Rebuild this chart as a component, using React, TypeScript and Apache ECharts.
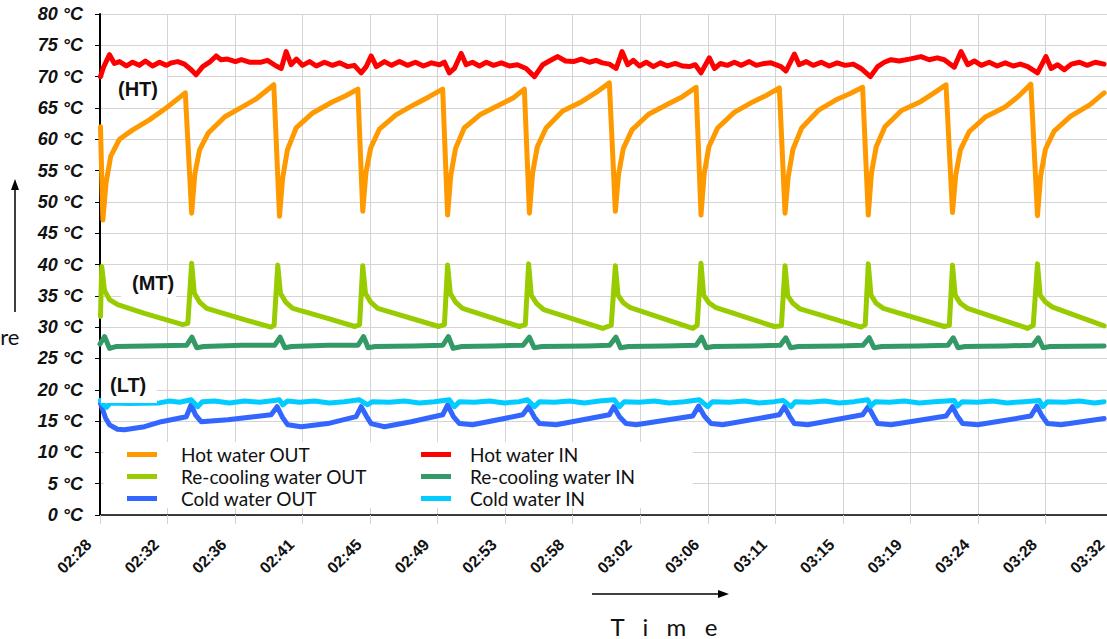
import React, { useEffect, useRef } from "react";
import * as echarts from "echarts";

// ---- Tick labels & scale ----
const TIME_LABELS = [
  "02:28", "02:32", "02:36", "02:41", "02:45", "02:49", "02:53", "02:58",
  "03:02", "03:06", "03:11", "03:15", "03:19", "03:24", "03:28", "03:32",
];
const MINUTES_PER_LABEL = 64 / 15; // minutes between two time labels
const Y_MIN = 0;
const Y_MAX = 80;
const Y_STEP = 5;

// ---- Series names ----
const SERIES_NAMES = [
  "Hot water OUT",
  "Hot water IN",
  "Re-cooling water OUT",
  "Re-cooling water IN",
  "Cold water OUT",
  "Cold water IN",
];
const LEGEND_LEFT = ["Hot water OUT", "Re-cooling water OUT", "Cold water OUT"];
const LEGEND_RIGHT = ["Hot water IN", "Re-cooling water IN", "Cold water IN"];

// ---- Data: [minutes after 02:28, °C] ----
const hotOut: number[][] = [
  [0.03, 62], [0.18, 47.1], [0.38, 53.0], [0.68, 57.3], [1.23, 60], [2.07, 61.5], [3.12, 63.1], [4.18, 65.0], [5.39, 67.4],
  [5.79, 48.2], [5.99, 54.4], [6.29, 58.3], [6.84, 61.0], [7.89, 63.6], [9.02, 65.2], [9.9, 66.5], [10.98, 68.7],
  [11.34, 47.7], [11.54, 53.8], [11.84, 58.3], [12.39, 61.8], [13.44, 64.2], [14.64, 65.9], [15.5, 66.9], [16.29, 68.0],
  [16.6, 48.5], [16.8, 54.6], [17.1, 58.6], [17.65, 61.6], [18.7, 63.9], [19.9, 65.6], [20.8, 66.8], [21.65, 68.0],
  [21.96, 47.9], [22.16, 54.2], [22.46, 58.5], [23.01, 61.8], [24.06, 64.0], [25.26, 65.5], [26.1, 66.6], [26.81, 68.0],
  [27.13, 48.2], [27.33, 54.6], [27.63, 58.8], [28.18, 61.8], [29.23, 64.5], [30.43, 66.0], [31.3, 67.4], [32.18, 69.0],
  [32.56, 48.5], [32.76, 54.4], [33.06, 58.5], [33.61, 61.5], [34.66, 64.0], [35.86, 65.6], [36.8, 66.8], [37.66, 68.3],
  [37.97, 47.9], [38.17, 54.5], [38.47, 58.8], [39.02, 61.8], [40.07, 64.3], [41.27, 66.0], [42.1, 67.0], [42.92, 68.2],
  [43.28, 48.2], [43.48, 54.0], [43.78, 58.4], [44.33, 61.8], [45.38, 64.6], [46.58, 66.4], [47.4, 67.3], [48.18, 68.3],
  [48.54, 47.9], [48.74, 54.6], [49.04, 58.8], [49.59, 62.0], [50.64, 64.6], [51.84, 66.0], [52.7, 67.4], [53.45, 68.7],
  [53.86, 48.3], [54.06, 54.2], [54.36, 58.3], [54.91, 61.2], [55.96, 63.6], [57.16, 65.1], [58.0, 66.8], [58.81, 68.8],
  [59.23, 47.8], [59.43, 54.2], [59.73, 58.4], [60.28, 61.3], [61.33, 63.7], [62.53, 65.5], [63.44, 67.4],
];

const hotIn: number[][] = [
  [0.03, 70.0], [0.22, 71.5], [0.6, 73.5], [0.91, 72.1], [1.23, 72.4], [1.67, 71.7], [2.06, 72.3],
  [2.49, 71.8], [2.87, 72.5], [3.32, 71.7], [3.76, 72.3], [4.2, 71.8], [4.51, 72.2], [4.91, 72.4],
  [5.34, 72.0], [5.76, 71.1], [6.07, 70.3], [6.49, 71.6], [6.92, 72.3], [7.34, 73.3], [7.65, 72.7],
  [8.05, 72.8], [8.56, 72.4], [8.93, 72.7], [9.44, 72.3], [10.19, 72.3], [10.58, 72.6], [11.13, 71.7],
  [11.45, 71.3], [11.76, 74.0], [12.07, 71.9], [12.41, 72.8], [12.79, 71.8], [13.24, 72.4], [13.67, 71.7],
  [14.18, 72.3], [14.69, 71.8], [15.13, 72.2], [15.65, 71.6], [16.07, 71.8], [16.5, 70.6], [16.82, 71.6],
  [17.13, 73.3], [17.46, 71.6], [17.97, 72.4], [18.42, 71.8], [18.92, 72.4], [19.42, 71.8], [19.93, 72.3],
  [20.43, 71.7], [20.94, 72.2], [21.45, 71.9], [21.76, 72.3], [22.07, 70.6], [22.39, 71.3], [22.82, 73.7],
  [23.13, 71.9], [23.53, 72.3], [23.97, 71.7], [24.41, 72.3], [24.86, 71.8], [25.36, 72.2], [25.86, 71.7],
  [26.37, 71.9], [26.92, 71.3], [27.45, 70.0], [27.97, 71.9], [28.39, 72.5], [28.92, 73.2], [29.41, 72.5],
  [29.91, 72.4], [30.41, 72.8], [30.92, 72.3], [31.34, 72.6], [31.74, 72.2], [32.18, 72.0], [32.61, 71.3],
  [32.98, 74.0], [33.34, 71.9], [33.7, 72.6], [34.08, 71.7], [34.51, 72.3], [34.96, 71.6], [35.4, 72.2],
  [35.85, 71.7], [36.35, 72.1], [36.79, 71.7], [37.24, 71.6], [37.61, 71.9], [37.97, 70.6], [38.5, 73.0],
  [38.82, 71.3], [39.2, 72.1], [39.63, 71.8], [40.08, 72.3], [40.52, 71.8], [41.02, 72.4], [41.46, 71.8],
  [41.97, 72.1], [42.4, 72.2], [43.02, 71.6], [43.34, 70.9], [43.87, 73.6], [44.17, 71.9], [44.62, 72.4],
  [45.06, 71.8], [45.57, 72.3], [46.07, 71.7], [46.57, 72.2], [47.08, 71.8], [47.59, 72.0], [48.08, 71.3],
  [48.67, 70.0], [49.13, 71.6], [49.55, 72.3], [49.98, 72.7], [50.5, 72.5], [51.13, 72.8], [51.87, 73.2],
  [52.39, 72.7], [52.9, 73.0], [53.34, 72.7], [53.97, 71.5], [54.4, 74.0], [54.82, 71.9], [55.24, 72.5],
  [55.68, 71.8], [56.18, 72.3], [56.68, 71.7], [57.19, 72.2], [57.7, 71.7], [58.15, 72.0], [58.61, 71.6],
  [59.23, 70.6], [59.76, 73.2], [60.09, 71.3], [60.5, 71.9], [60.92, 71.1], [61.37, 72.0], [61.88, 72.3],
  [62.37, 71.8], [62.88, 72.3], [63.44, 72.0],
];

const recoolOut: number[][] = [
  [0.03, 31.7], [0.11, 39.7], [0.28, 35.9], [0.6, 34.4], [1.12, 33.6], [2.81, 32.2], [5.23, 30.4], [5.55, 30.6],
  [5.79, 40.2], [5.96, 35.4], [6.29, 34.0], [6.74, 33.0], [9.12, 31.2], [10.8, 30.0], [11.0, 30.3],
  [11.23, 39.9], [11.4, 35.4], [11.73, 34.0], [12.18, 33.0], [14.39, 31.4], [16.1, 30.1], [16.4, 30.4],
  [16.6, 39.8], [16.77, 35.4], [17.1, 34.0], [17.55, 33.0], [21.4, 30.1], [21.76, 30.4],
  [21.96, 39.9], [22.13, 35.4], [22.46, 34.0], [22.91, 33.0], [26.49, 30.1], [26.87, 30.4],
  [27.08, 40.1], [27.25, 35.1], [27.58, 33.8], [28.03, 32.8], [31.76, 29.8], [32.3, 30.3],
  [32.56, 39.8], [32.73, 35.1], [33.06, 33.9], [33.51, 33.1], [37.45, 29.8], [37.73, 30.3],
  [37.97, 40.2], [38.14, 35.1], [38.47, 33.9], [38.92, 33.1], [42.6, 30.1], [43.05, 30.2],
  [43.28, 39.8], [43.45, 35.0], [43.78, 33.8], [44.23, 32.9], [48.08, 30.0], [48.35, 30.4],
  [48.54, 40.1], [48.71, 35.1], [49.04, 33.8], [49.49, 33.0], [53.34, 30.1], [53.66, 30.3],
  [53.86, 39.9], [54.03, 35.1], [54.36, 33.8], [54.81, 33.0], [58.61, 29.8], [58.96, 30.3],
  [59.23, 40.1], [59.4, 35.1], [59.73, 34.0], [60.18, 33.2], [63.44, 30.2],
];

const recoolIn: number[][] = [
  [0.0, 27.3], [0.29, 28.5], [0.6, 26.6], [1.0, 26.9], [3.0, 27.0],
  [5.47, 27.1], [5.81, 28.4], [6.11, 26.7], [6.56, 26.9], [8.94, 27.1],
  [11.03, 27.1], [11.38, 28.4], [11.68, 26.7], [12.12, 26.9], [14.41, 27.1],
  [16.3, 27.1], [16.65, 28.5], [16.94, 26.7], [17.39, 26.9], [19.88, 27.0],
  [21.66, 27.1], [22.01, 28.5], [22.31, 26.6], [22.86, 26.9], [24.85, 27.0],
  [26.73, 27.1], [27.13, 28.4], [27.43, 26.7], [27.93, 26.9], [30.81, 27.0],
  [32.2, 27.1], [32.6, 28.4], [32.89, 26.7], [33.39, 26.9], [35.78, 27.0],
  [37.66, 27.1], [38.01, 28.4], [38.31, 26.7], [38.76, 26.9], [41.24, 27.0],
  [42.98, 27.1], [43.33, 28.3], [43.63, 26.7], [44.12, 26.9], [46.71, 27.0],
  [48.2, 27.1], [48.6, 28.3], [48.9, 26.7], [49.39, 26.9], [51.68, 27.0],
  [53.57, 27.1], [53.91, 28.3], [54.21, 26.7], [54.66, 26.9], [57.14, 27.0],
  [58.93, 27.1], [59.28, 28.3], [59.58, 26.7], [60.03, 26.9], [63.44, 27.0],
];

const coldOut: number[][] = [
  [0.03, 17.8], [0.35, 15.5], [0.6, 14.4], [1.1, 13.7], [1.54, 13.6], [2.81, 14.1], [3.87, 14.9], [5.45, 15.7],
  [5.76, 17.6], [6.03, 16.0], [6.39, 14.9], [8.07, 15.2], [9.44, 15.6], [10.81, 16.0],
  [11.19, 17.3], [11.53, 15.6], [11.86, 14.4], [12.71, 14.1], [14.39, 14.6], [16.18, 15.7],
  [16.5, 17.3], [16.83, 15.8], [17.13, 14.6], [17.97, 14.1], [19.66, 14.9], [21.65, 16.0],
  [21.96, 17.6], [22.33, 15.7], [22.71, 14.6], [23.54, 14.4], [26.7, 16.0],
  [27.08, 17.3], [27.45, 15.6], [27.77, 14.6], [28.82, 14.4], [32.18, 16.0],
  [32.46, 17.3], [32.82, 15.7], [33.23, 14.6], [33.87, 14.4], [37.45, 15.8],
  [37.82, 17.4], [38.18, 15.8], [38.61, 14.6], [39.33, 14.4], [42.92, 16.0],
  [43.24, 17.3], [43.56, 15.8], [43.87, 14.6], [44.71, 14.4], [48.18, 16.0],
  [48.54, 17.3], [48.86, 15.8], [49.13, 14.6], [49.98, 14.4], [53.45, 15.8],
  [53.86, 17.3], [54.16, 15.8], [54.5, 14.6], [55.45, 14.4], [58.81, 15.8],
  [59.19, 17.4], [59.52, 15.8], [59.86, 14.6], [60.71, 14.4], [63.44, 15.4],
];

const coldIn: number[][] = [
  [0.03, 18.3], [0.22, 17.6], [0.41, 17.2], [0.67, 17.9], [1.86, 17.8], [3.76, 17.9], [4.39, 18.2],
  [5.02, 18.0], [5.76, 18.4], [6.18, 17.3], [6.47, 18.1], [7.24, 18.2], [8.18, 17.9], [9.12, 18.2],
  [10.08, 18.0], [11.02, 18.3], [11.34, 18.4], [11.55, 17.6], [11.85, 18.2], [12.6, 18.0], [13.55, 18.2],
  [14.49, 17.9], [15.44, 18.1], [16.39, 18.4], [16.91, 17.6], [17.21, 18.1], [18.29, 18.0], [19.23, 18.2],
  [20.18, 17.9], [21.13, 18.1], [22.07, 18.4], [22.39, 17.3], [22.71, 18.1], [23.65, 18.0], [24.61, 18.2],
  [25.55, 17.9], [26.49, 18.1], [27.0, 18.4], [27.45, 17.3], [27.77, 18.1], [28.71, 18.0], [29.66, 18.2],
  [30.6, 17.9], [31.55, 18.2], [32.49, 18.4], [32.82, 17.3], [33.12, 18.1], [34.08, 18.0], [35.02, 18.2],
  [35.97, 17.9], [36.92, 18.1], [37.87, 18.4], [38.39, 17.3], [38.69, 18.1], [39.76, 18.0], [40.71, 18.2],
  [41.66, 17.9], [42.6, 18.1], [43.17, 18.3], [43.66, 17.3], [43.93, 18.1], [44.81, 18.0], [45.76, 18.2],
  [46.71, 17.9], [47.65, 18.1], [48.5, 18.4], [48.71, 17.4], [48.98, 18.1], [49.87, 18.0], [50.81, 18.2],
  [51.77, 17.9], [52.71, 18.1], [53.97, 18.3], [54.18, 17.4], [54.48, 18.1], [55.43, 18.0], [56.38, 18.2],
  [57.32, 17.9], [58.39, 18.1], [59.35, 18.3], [59.56, 17.3], [59.86, 18.1], [60.92, 18.0], [61.88, 18.2],
  [62.82, 17.9], [63.44, 18.1],
];

const SERIES_DATA = [hotOut, hotIn, recoolOut, recoolIn, coldOut, coldIn];
const SERIES_COLORS = ["#FF9900", "#FF0000", "#99CC00", "#339966", "#3366FF", "#00CCFF"];

const AXIS_FONT = '"Liberation Sans", Arial, sans-serif';
const LEGEND_FONT = 'Lato, "Noto Sans", sans-serif';

export default function App() {
  const ref = useRef<HTMLDivElement>(null);

  useEffect(() => {
    if (!ref.current) return;
    const chart = echarts.init(ref.current, null, { renderer: "svg" });

    const series = SERIES_NAMES.map((name, i) => ({
      name,
      type: "line",
      data: SERIES_DATA[i].map(([m, v]) => [m / MINUTES_PER_LABEL, v]),
      showSymbol: false,
      symbol: "none",
      lineStyle: { color: SERIES_COLORS[i], width: 5, join: "round", cap: "round" },
      itemStyle: { color: SERIES_COLORS[i] },
      emphasis: { disabled: true },
      z: 2,
    }));

    const legendBase = {
      orient: "vertical",
      padding: 0,
      itemGap: 3,
      itemWidth: 30,
      itemHeight: 5,
      icon: "rect",
      selectedMode: false,
    };

    chart.setOption({
      animation: false,
      backgroundColor: "#ffffff",
      grid: { left: 100, top: 14, width: 1013, height: 501, outerBoundsMode: "none", containLabel: false },
      xAxis: {
        type: "value",
        min: 0,
        max: TIME_LABELS.length - 1,
        interval: 1,
        axisLine: { show: true, onZero: false, lineStyle: { color: "#000", width: 1.5 } },
        axisTick: { show: true, length: 9, lineStyle: { color: "#d4d4d4", width: 1 } },
        splitLine: { show: true, lineStyle: { color: "#d4d4d4", width: 1 } },
        axisLabel: {
          rotate: 45,
          margin: 15.5,
          padding: [0, 16, 0, 0],
          backgroundColor: "rgba(255,255,255,0)",
          fontFamily: AXIS_FONT,
          fontWeight: "bold",
          fontSize: 16,
          color: "#111",
          formatter: (v: number) => TIME_LABELS[Math.round(v)] ?? "",
        },
      },
      yAxis: {
        type: "value",
        min: Y_MIN,
        max: Y_MAX,
        interval: Y_STEP,
        axisLine: { show: true, lineStyle: { color: "#000", width: 2 } },
        axisTick: { show: true, length: 5, lineStyle: { color: "#000", width: 1 } },
        splitLine: { show: true, lineStyle: { color: "#d4d4d4", width: 1 } },
        axisLabel: {
          margin: 17,
          fontFamily: AXIS_FONT,
          fontWeight: "bold",
          fontStyle: "italic",
          fontSize: 18,
          color: "#111",
          formatter: (v: number) => `${v} °C`,
        },
      },
      legend: [
        {
          ...legendBase,
          left: 127,
          top: 445,
          data: LEGEND_LEFT,
          textStyle: { fontFamily: LEGEND_FONT, fontSize: 19, color: "#111", padding: [0, 0, 0, 19] },
        },
        {
          ...legendBase,
          left: 421,
          top: 445,
          data: LEGEND_RIGHT,
          textStyle: { fontFamily: LEGEND_FONT, fontSize: 19, color: "#111", padding: [0, 0, 0, 14] },
        },
      ],
      graphic: [
        // white box behind legend
        { type: "rect", z: 3, shape: { x: 104, y: 442, width: 589, height: 66 }, style: { fill: "#fff" } },
        // white boxes behind zone labels
        { type: "rect", z: 3, shape: { x: 104, y: 76, width: 63, height: 24 }, style: { fill: "#fff" } },
        { type: "rect", z: 3, shape: { x: 121, y: 271, width: 55, height: 27 }, style: { fill: "#fff" } },
        { type: "rect", z: 3, shape: { x: 101, y: 368, width: 56, height: 35 }, style: { fill: "#fff" } },
        {
          type: "text", z: 4, x: 118, y: 89,
          style: { text: "(HT)", font: `bold 20px ${AXIS_FONT}`, fill: "#111", textVerticalAlign: "middle" },
        },
        {
          type: "text", z: 4, x: 132, y: 283,
          style: { text: "(MT)", font: `bold 20px ${AXIS_FONT}`, fill: "#111", textVerticalAlign: "middle" },
        },
        {
          type: "text", z: 4, x: 110, y: 385,
          style: { text: "(LT)", font: `bold 20px ${AXIS_FONT}`, fill: "#111", textVerticalAlign: "middle" },
        },
        // y axis title (cut off at the left edge, as in the original) and arrow
        {
          type: "text", z: 4, x: 19.5, y: 336,
          style: { text: "Temperature", font: `22px ${LEGEND_FONT}`, fill: "#111", textAlign: "right", textVerticalAlign: "middle" },
        },
        { type: "line", z: 4, shape: { x1: 15, y1: 312, x2: 15, y2: 188 }, style: { stroke: "#000", lineWidth: 1.5 } },
        { type: "polygon", z: 4, shape: { points: [[15, 179], [11, 190], [19, 190]] }, style: { fill: "#000" } },
        // x axis title and arrow
        { type: "line", z: 4, shape: { x1: 592, y1: 594, x2: 720, y2: 594 }, style: { stroke: "#000", lineWidth: 1.5 } },
        { type: "polygon", z: 4, shape: { points: [[729, 594], [718, 590], [718, 598]] }, style: { fill: "#000" } },
        {
          type: "text", z: 4, x: 664, y: 626,
          style: { text: "T   i   m   e", font: `24px ${LEGEND_FONT}`, fill: "#111", textAlign: "center", textVerticalAlign: "middle" },
        },
      ],
      series,
    });

    return () => chart.dispose();
  }, []);

  return (
    <div
      ref={ref}
      style={{ position: "absolute", left: 0, top: 0, width: 1107, height: 639, overflow: "hidden" }}
    />
  );
}
